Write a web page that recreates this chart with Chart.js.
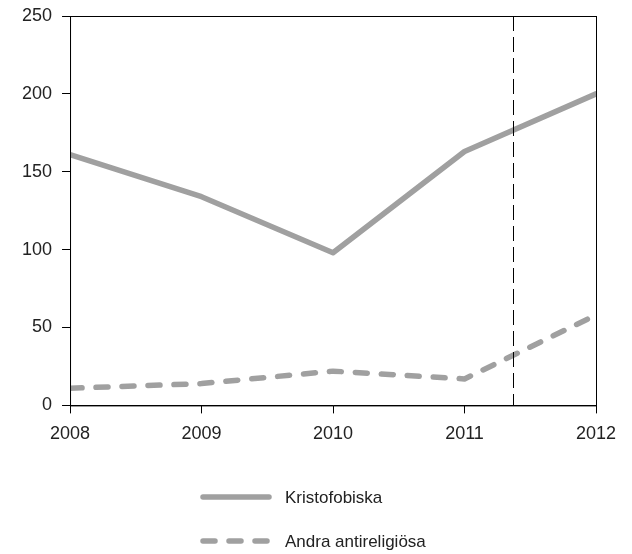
<!DOCTYPE html>
<html>
<head>
<meta charset="utf-8">
<script src="https://cdn.jsdelivr.net/npm/chart.js@4"></script>
<style>
  html,body{margin:0;padding:0;background:#fff;}
  #wrap{width:632px;height:554px;position:relative;}
</style>
</head>
<body>
<div id="wrap"><canvas id="c" width="632" height="554"></canvas></div>
<script>
// data
var years = [2008, 2009, 2010, 2011, 2012];
var kristofobiska = [161, 134, 98, 163, 200];
var andraAntireligiosa = [11, 14, 22, 17, 58];
var yTicks = [0, 50, 100, 150, 200, 250];
var markerYear = 2011.37;

var GRAY = '#a0a0a0';
var FONT = {family: '"Liberation Sans", Arial, sans-serif', size: 18};

function pts(vals){ return years.map(function(y,i){ return {x:y, y:vals[i]}; }); }

// box round the plot, vertical dashed marker and legend under the chart
var extras = {
  id: 'extras',
  afterDatasetsDraw: function(chart){
    var ctx = chart.ctx, a = chart.chartArea, xs = chart.scales.x;
    ctx.save();
    ctx.strokeStyle = '#000'; ctx.lineWidth = 1;
    ctx.strokeRect(a.left + 0.5, a.top + 0.5, a.right - a.left, a.bottom - a.top);
    var mx = Math.round(xs.getPixelForValue(markerYear)) + 0.5;
    ctx.setLineDash([15, 6]);
    ctx.beginPath(); ctx.moveTo(mx, a.top); ctx.lineTo(mx, a.bottom); ctx.stroke();
    ctx.restore();
  },
  afterDraw: function(chart){
    var ctx = chart.ctx;
    var rows = [497, 541];
    chart.data.datasets.forEach(function(ds, i){
      var y = rows[i];
      ctx.save();
      ctx.strokeStyle = ds.borderColor; ctx.lineWidth = ds.borderWidth;
      ctx.lineCap = 'round';
      ctx.setLineDash(ds.borderDash || []);
      ctx.beginPath(); ctx.moveTo(203, y); ctx.lineTo(269, y); ctx.stroke();
      ctx.setLineDash([]);
      ctx.fillStyle = '#222';
      ctx.font = '17px ' + FONT.family;
      ctx.textBaseline = 'middle';
      ctx.fillText(ds.label, 285, y + 1);
      ctx.restore();
    });
  }
};

new Chart(document.getElementById('c'), {
  type: 'line',
  data: {datasets: [
    {label: 'Kristofobiska', data: pts(kristofobiska), borderColor: GRAY, borderWidth: 5.5, pointRadius: 0, tension: 0, borderCapStyle: 'round', borderJoinStyle: 'round'},
    {label: 'Andra antireligiösa', data: pts(andraAntireligiosa), borderColor: GRAY, borderWidth: 5.5, borderDash: [12, 14], pointRadius: 0, tension: 0, borderCapStyle: 'round', borderJoinStyle: 'round'}
  ]},
  options: {
    responsive: false, animation: false,
    layout: {padding: {left: 12, right: 36, top: 16, bottom: 99}},
    plugins: {legend: {display: false}, tooltip: {enabled: false}},
    scales: {
      x: {type: 'linear', min: years[0], max: years[years.length-1],
          afterBuildTicks: function(s){ s.ticks = years.map(function(v){ return {value: v}; }); },
          ticks: {color: '#222', font: FONT, padding: 10, callback: function(v){ return String(v); }},
          grid: {drawOnChartArea: false, color: '#000', tickLength: 8, tickColor: '#000'},
          border: {color: '#000', width: 1}},
      y: {min: 0, max: 250,
          afterBuildTicks: function(s){ s.ticks = yTicks.map(function(v){ return {value: v}; }); },
          afterFit: function(s){ s.paddingTop = 0; },
          ticks: {color: '#222', font: FONT, padding: 10},
          grid: {drawOnChartArea: false, color: '#000', tickLength: 8, tickColor: '#000'},
          border: {color: '#000', width: 1}}
    }
  },
  plugins: [extras]
});
</script>
</body>
</html>
